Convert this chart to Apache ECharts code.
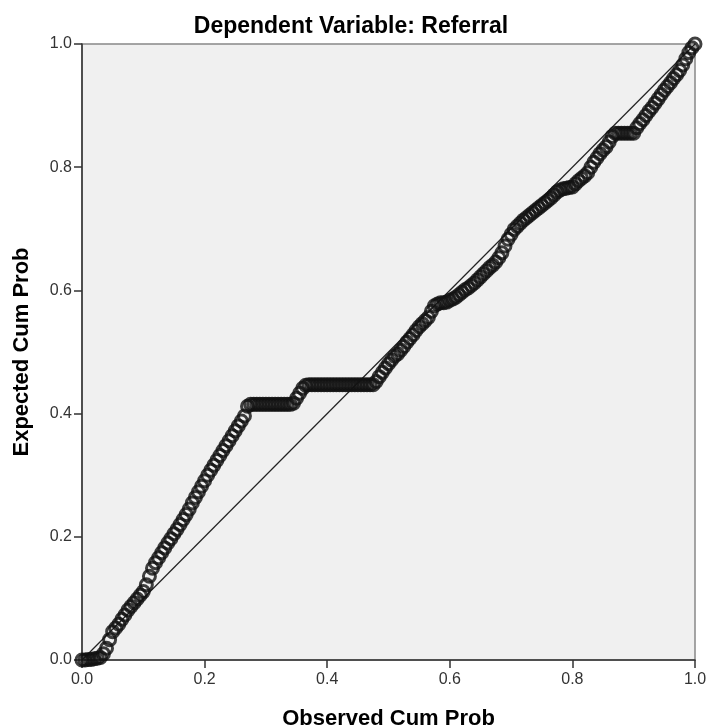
<!DOCTYPE html>
<html>
<head>
<meta charset="utf-8">
<script src="https://cdn.jsdelivr.net/npm/echarts@6/dist/echarts.min.js"></script>
<style>
  html, body { margin: 0; padding: 0; background: #fff; }
  #chart { width: 708px; height: 728px; }
</style>
</head>
<body>
<div id="chart"></div>
<script>
// observed cumulative probability (x) and expected cumulative probability (y)
const observed = [
  0.000, 0.005, 0.010, 0.015, 0.020, 0.025, 0.030, 0.035, 0.040, 0.045,
  0.050, 0.055, 0.060, 0.065, 0.070, 0.075, 0.080, 0.085, 0.090, 0.095,
  0.100, 0.105, 0.110, 0.115, 0.120, 0.125, 0.130, 0.135, 0.140, 0.145,
  0.150, 0.155, 0.160, 0.165, 0.170, 0.175, 0.180, 0.185, 0.190, 0.195,
  0.200, 0.205, 0.210, 0.215, 0.220, 0.225, 0.230, 0.235, 0.240, 0.245,
  0.250, 0.255, 0.260, 0.265, 0.270, 0.275, 0.280, 0.285, 0.290, 0.295,
  0.300, 0.305, 0.310, 0.315, 0.320, 0.325, 0.330, 0.335, 0.340, 0.345,
  0.350, 0.355, 0.360, 0.365, 0.370, 0.375, 0.380, 0.385, 0.390, 0.395,
  0.400, 0.405, 0.410, 0.415, 0.420, 0.425, 0.430, 0.435, 0.440, 0.445,
  0.450, 0.455, 0.460, 0.465, 0.470, 0.475, 0.480, 0.485, 0.490, 0.495,
  0.500, 0.505, 0.510, 0.515, 0.520, 0.525, 0.530, 0.535, 0.540, 0.545,
  0.550, 0.555, 0.560, 0.565, 0.570, 0.575, 0.580, 0.585, 0.590, 0.595,
  0.600, 0.605, 0.610, 0.615, 0.620, 0.625, 0.630, 0.635, 0.640, 0.645,
  0.650, 0.655, 0.660, 0.665, 0.670, 0.675, 0.680, 0.685, 0.690, 0.695,
  0.700, 0.705, 0.710, 0.715, 0.720, 0.725, 0.730, 0.735, 0.740, 0.745,
  0.750, 0.755, 0.760, 0.765, 0.770, 0.775, 0.780, 0.785, 0.790, 0.795,
  0.800, 0.805, 0.810, 0.815, 0.820, 0.825, 0.830, 0.835, 0.840, 0.845,
  0.850, 0.855, 0.860, 0.865, 0.870, 0.875, 0.880, 0.885, 0.890, 0.895,
  0.900, 0.905, 0.910, 0.915, 0.920, 0.925, 0.930, 0.935, 0.940, 0.945,
  0.950, 0.955, 0.960, 0.965, 0.970, 0.975, 0.980, 0.985, 0.990, 0.995,
  1.000
];
const expected = [
  0.000, 0.000, 0.001, 0.001, 0.002, 0.003, 0.004, 0.010, 0.019, 0.033,
  0.046, 0.052, 0.058, 0.066, 0.073, 0.081, 0.087, 0.093, 0.099, 0.105,
  0.111, 0.122, 0.136, 0.149, 0.158, 0.166, 0.174, 0.182, 0.190, 0.197,
  0.205, 0.212, 0.220, 0.228, 0.236, 0.245, 0.255, 0.264, 0.273, 0.282,
  0.291, 0.300, 0.308, 0.316, 0.324, 0.332, 0.340, 0.348, 0.356, 0.364,
  0.372, 0.380, 0.388, 0.396, 0.412, 0.415, 0.415, 0.415, 0.415, 0.415,
  0.415, 0.415, 0.415, 0.415, 0.415, 0.415, 0.415, 0.415, 0.415, 0.417,
  0.425, 0.433, 0.441, 0.446, 0.447, 0.447, 0.447, 0.447, 0.447, 0.447,
  0.447, 0.447, 0.447, 0.447, 0.447, 0.447, 0.447, 0.447, 0.447, 0.447,
  0.447, 0.447, 0.447, 0.447, 0.447, 0.447, 0.452, 0.460, 0.467, 0.474,
  0.481, 0.487, 0.493, 0.497, 0.503, 0.509, 0.516, 0.522, 0.528, 0.535,
  0.541, 0.546, 0.551, 0.556, 0.566, 0.575, 0.578, 0.580, 0.580, 0.581,
  0.584, 0.586, 0.589, 0.593, 0.597, 0.601, 0.604, 0.608, 0.612, 0.617,
  0.622, 0.627, 0.632, 0.637, 0.641, 0.646, 0.653, 0.661, 0.672, 0.683,
  0.691, 0.699, 0.704, 0.709, 0.714, 0.718, 0.722, 0.726, 0.730, 0.734,
  0.738, 0.742, 0.746, 0.750, 0.755, 0.760, 0.763, 0.765, 0.766, 0.767,
  0.768, 0.773, 0.778, 0.782, 0.786, 0.791, 0.800, 0.808, 0.815, 0.822,
  0.828, 0.833, 0.841, 0.850, 0.855, 0.855, 0.855, 0.855, 0.855, 0.855,
  0.855, 0.864, 0.871, 0.877, 0.884, 0.891, 0.897, 0.904, 0.911, 0.918,
  0.925, 0.931, 0.937, 0.944, 0.950, 0.957, 0.966, 0.976, 0.986, 0.994,
  1.000
];
const refLine = [[0, 0], [1, 1]];

var myChart = echarts.init(document.getElementById('chart'));

const font = 'Liberation Sans, Arial, sans-serif';

const axisCommon = {
  type: 'value',
  min: 0,
  max: 1,
  interval: 0.2,
  nameLocation: 'middle',
  nameTextStyle: { color: '#000', fontSize: 22, fontWeight: 'bold', fontFamily: font },
  axisLine: { show: true, onZero: false, lineStyle: { color: '#333', width: 1.5 } },
  axisTick: { show: true, length: 8, lineStyle: { color: '#333', width: 1.5 } },
  axisLabel: {
    color: '#333', fontSize: 16, fontFamily: font,
    formatter: v => v.toFixed(1)
  },
  splitLine: { show: false }
};

const option = {
  backgroundColor: '#ffffff',
  animation: false,
  title: {
    text: 'Dependent Variable: Referral',
    left: 346,
    textAlign: 'center',
    top: 10,
    textStyle: { color: '#000', fontSize: 23, fontWeight: 'bold', fontFamily: font }
  },
  grid: {
    left: 82,
    right: 13,
    top: 44,
    bottom: 68,
    outerBoundsMode: 'none',
    containLabel: false,
    show: true,
    backgroundColor: '#f0f0f0',
    borderColor: '#888',
    borderWidth: 1.5
  },
  xAxis: Object.assign({}, axisCommon, {
    name: 'Observed Cum Prob',
    nameGap: 48,
    axisLabel: Object.assign({}, axisCommon.axisLabel, { margin: 12 })
  }),
  yAxis: Object.assign({}, axisCommon, {
    name: 'Expected Cum Prob',
    nameGap: 49,
    axisLabel: Object.assign({}, axisCommon.axisLabel, { margin: 10 })
  }),
  series: [
    {
      name: 'reference',
      type: 'line',
      data: refLine,
      showSymbol: false,
      symbol: 'none',
      lineStyle: { color: '#222', width: 1.2 },
      z: 1
    },
    {
      name: 'P-P',
      type: 'scatter',
      data: observed.map((x, i) => [x, expected[i]]),
      symbol: 'circle',
      symbolSize: 12,
      itemStyle: {
        color: 'rgba(0,0,0,0)',
        borderColor: '#111',
        borderWidth: 3
      },
      z: 2
    }
  ]
};

myChart.setOption(option);
</script>
</body>
</html>
